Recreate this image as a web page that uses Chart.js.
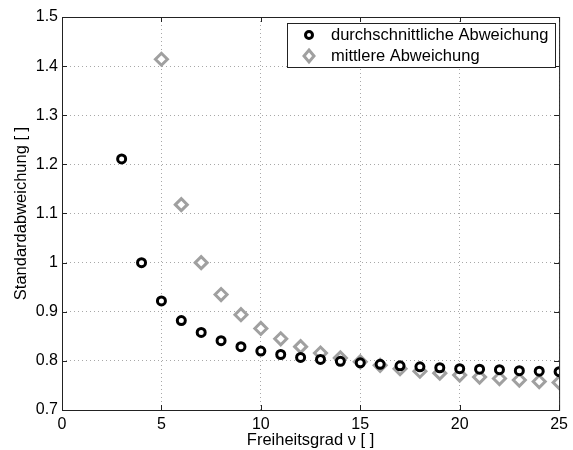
<!DOCTYPE html>
<html>
<head>
<meta charset="utf-8">
<script src="https://cdn.jsdelivr.net/npm/chart.js@4.4.1/dist/chart.umd.min.js"></script>
<style>
  html, body { margin: 0; padding: 0; background: #fff; }
  #wrap { width: 573px; height: 450px; }
</style>
</head>
<body>
<div id="wrap"><canvas id="chart" width="573" height="450"></canvas></div>
<script>
// Freiheitsgrad nu
let nuDurch = [3, 4, 5, 6, 7, 8, 9, 10, 11, 12, 13, 14, 15, 16, 17, 18, 19, 20, 21, 22, 23, 24, 25];
let durchschnittlich = [1.211, 1.0, 0.922, 0.882, 0.858, 0.841, 0.829, 0.820, 0.813, 0.807, 0.803, 0.799,
    0.796, 0.793, 0.790, 0.788, 0.786, 0.784, 0.783, 0.782, 0.780, 0.779, 0.778];
let nuMittel = [5, 6, 7, 8, 9, 10, 11, 12, 13, 14, 15, 16, 17, 18, 19, 20, 21, 22, 23, 24, 25];
let mittlere = [1.414, 1.118, 1.0, 0.935, 0.894, 0.866, 0.845, 0.829, 0.816, 0.806, 0.798, 0.791,
    0.784, 0.779, 0.775, 0.771, 0.767, 0.764, 0.761, 0.758, 0.756];
let xTicks = [0, 5, 10, 15, 20, 25];
let yTicks = [0.7, 0.8, 0.9, 1.0, 1.1, 1.2, 1.3, 1.4, 1.5];
let legendLabels = ['durchschnittliche Abweichung', 'mittlere Abweichung'];

const FONT = 'Liberation Sans, Arial, Helvetica, sans-serif';
const GREY = '#a0a0a0';

function pts(xs, ys) {
    return xs.map((x, i) => ({x: x, y: ys[i]}));
}

// frame, inward ticks and legend box like matlab
const frameAndLegend = {
    id: 'frameAndLegend',
    afterDraw(c) {
        const ctx = c.ctx, a = c.chartArea;
        const sx = c.scales.x, sy = c.scales.y;
        ctx.save();
        ctx.strokeStyle = '#222';
        ctx.lineWidth = 1;
        ctx.strokeRect(a.left + 0.5, a.top + 0.5, a.right - a.left, a.bottom - a.top);
        ctx.beginPath();
        xTicks.forEach(v => {
            const px = Math.round(sx.getPixelForValue(v)) + 0.5;
            ctx.moveTo(px, a.bottom); ctx.lineTo(px, a.bottom - 5);
            ctx.moveTo(px, a.top); ctx.lineTo(px, a.top + 5);
        });
        yTicks.forEach(v => {
            const py = Math.round(sy.getPixelForValue(v)) + 0.5;
            ctx.moveTo(a.left, py); ctx.lineTo(a.left + 5, py);
            ctx.moveTo(a.right, py); ctx.lineTo(a.right - 5, py);
        });
        ctx.stroke();

        // legend
        const lx = 287, ly = 23, lw = 268, lh = 44;
        ctx.fillStyle = '#fff';
        ctx.fillRect(lx, ly, lw, lh);
        ctx.strokeStyle = '#222';
        ctx.strokeRect(lx + 0.5, ly + 0.5, lw, lh);

        ctx.lineWidth = 3;
        ctx.strokeStyle = '#000';
        ctx.beginPath();
        ctx.arc(309, 35, 3.5, 0, Math.PI * 2);
        ctx.stroke();

        ctx.strokeStyle = GREY;
        ctx.beginPath();
        ctx.moveTo(309, 50); ctx.lineTo(314, 56); ctx.lineTo(309, 62); ctx.lineTo(304, 56); ctx.closePath();
        ctx.stroke();

        ctx.fillStyle = '#000';
        ctx.font = '16.5px ' + FONT;
        ctx.textBaseline = 'middle';
        ctx.fillText(legendLabels[0], 331, 35);
        ctx.fillText(legendLabels[1], 331, 56);
        ctx.restore();
    }
};

let chart = document.getElementById('chart').getContext('2d');
let abwChart = new Chart(chart, {
    type: 'scatter',
    data: {
        datasets: [{
            label: legendLabels[0],
            data: pts(nuDurch, durchschnittlich),
            pointStyle: 'circle',
            pointRadius: 4,
            borderWidth: 3,
            borderColor: '#000',
            backgroundColor: '#fff'
        }, {
            label: legendLabels[1],
            data: pts(nuMittel, mittlere),
            pointStyle: 'rectRot',
            pointRadius: 6,
            borderWidth: 3,
            borderColor: GREY,
            backgroundColor: '#fff'
        }]
    },
    options: {
        responsive: false,
        animation: false,
        layout: {padding: {top: 17, right: 13, left: 0, bottom: 0}},
        plugins: {legend: {display: false}, tooltip: {enabled: false}},
        scales: {
            x: {
                type: 'linear',
                min: 0, max: 25,
                afterBuildTicks: s => { s.ticks = xTicks.map(v => ({value: v})); },
                afterFit: s => { s.height = 40; },
                grid: {color: '#a8a8a8', drawTicks: false},
                border: {display: false, dash: [1, 3]},
                ticks: {color: '#000', font: {family: FONT, size: 16}, padding: 5, maxRotation: 0},
                title: {display: true, text: 'Freiheitsgrad \u03bd [ ]', color: '#000',
                    font: {family: FONT, size: 16.5}, padding: {top: 2, bottom: 0}}
            },
            y: {
                type: 'linear',
                min: 0.7, max: 1.5,
                afterBuildTicks: s => { s.ticks = yTicks.map(v => ({value: v})); },
                afterFit: s => { s.width = 62; },
                grid: {color: '#a8a8a8', drawTicks: false},
                border: {display: false, dash: [1, 3]},
                ticks: {color: '#000', font: {family: FONT, size: 16}, padding: 4,
                    callback: v => String(Number(v.toFixed(1)))},
                title: {display: true, text: 'Standardabweichung [ ]', color: '#000',
                    font: {family: FONT, size: 16.5}, padding: {top: 12, bottom: 0}}
            }
        }
    },
    plugins: [frameAndLegend]
});
</script>
</body>
</html>
